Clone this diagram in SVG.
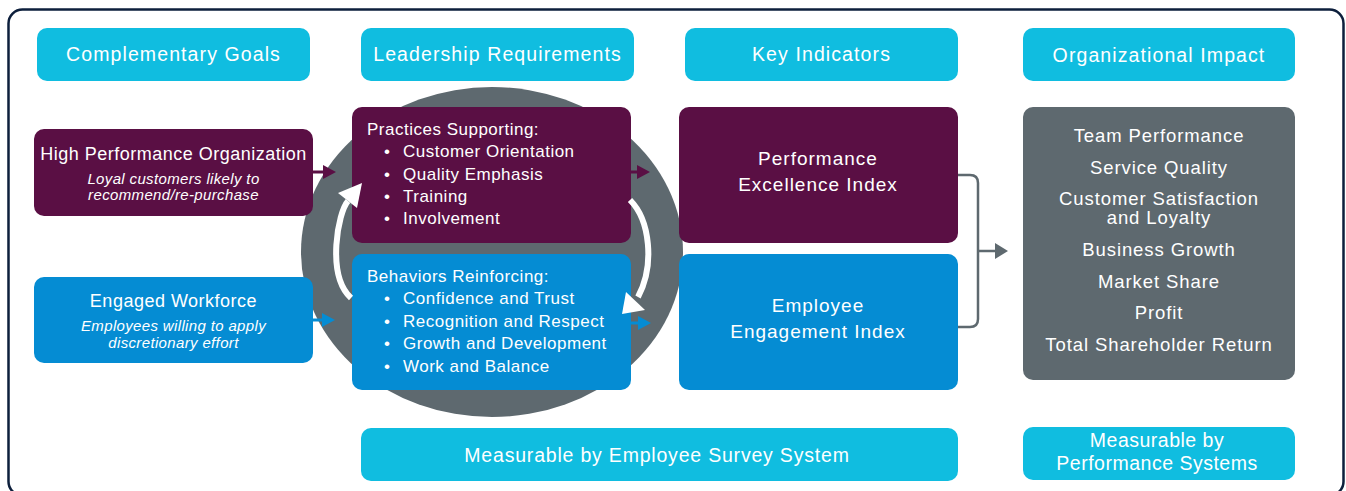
<svg xmlns="http://www.w3.org/2000/svg" width="1346" height="491" viewBox="0 0 1346 491">
<style>
.hdr{fill:#10bde0}
.pur{fill:#5a0f44}
.blu{fill:#058cd3}
.gry{fill:#5e696f}
text{font-family:"Liberation Sans",Arial,sans-serif;fill:#ffffff}
.h{font-size:19.5px;letter-spacing:1.1px;text-anchor:middle}
.p{font-size:19.5px;letter-spacing:0.5px;text-anchor:middle}
.t{font-size:18px;letter-spacing:0.5px;text-anchor:middle}
.i{font-size:15px;letter-spacing:0.35px;font-style:italic;text-anchor:middle}
.l{font-size:17px;letter-spacing:0.5px}
.k{font-size:19px;letter-spacing:1px;text-anchor:middle}
.r{font-size:18.5px;letter-spacing:0.9px;text-anchor:middle}
.s{font-size:19.5px;letter-spacing:0.8px;text-anchor:middle}
.conn{stroke:#5e696f;stroke-width:2.5;fill:none}
</style>
<rect x="8.5" y="9.5" width="1335" height="486" rx="14" fill="#ffffff" stroke="#0d1f3c" stroke-width="2.5"/>

<g id="hdr-goals"><rect class="hdr" x="37" y="28" width="273" height="53" rx="10"/><text class="h" x="173.5" y="61">Complementary Goals</text></g>
<g id="hdr-leadership"><rect class="hdr" x="361" y="28" width="273" height="53" rx="10"/><text class="h" x="497.5" y="61">Leadership Requirements</text></g>
<g id="hdr-indicators"><rect class="hdr" x="685" y="28" width="273" height="53" rx="10"/><text class="h" x="821.5" y="61">Key Indicators</text></g>
<g id="hdr-impact"><rect class="hdr" x="1023" y="28" width="272" height="53" rx="10"/><text class="h" x="1159" y="62">Organizational Impact</text></g>

<g id="ring"><ellipse cx="492" cy="252" rx="191" ry="165" fill="#5e696f"/></g>

<g id="goal-hpo"><rect class="pur" x="34" y="129" width="279" height="87" rx="10"/>
<text class="t" x="173.5" y="160">High Performance Organization</text>
<text class="i" x="173.5" y="184">Loyal customers likely to</text>
<text class="i" x="173.5" y="200">recommend/re-purchase</text></g>

<g id="goal-ew"><rect class="blu" x="34" y="277" width="279" height="86" rx="10"/>
<text class="t" x="173.5" y="307">Engaged Workforce</text>
<text class="i" x="173.5" y="331">Employees willing to apply</text>
<text class="i" x="173.5" y="348">discretionary effort</text></g>

<g id="practices"><rect class="pur" x="352" y="107" width="279" height="136" rx="10"/>
<text class="l" x="367" y="135">Practices Supporting:</text>
<g class="l"><text x="384" y="157">•</text><text x="403" y="157">Customer Orientation</text>
<text x="384" y="180">•</text><text x="403" y="180">Quality Emphasis</text>
<text x="384" y="202">•</text><text x="403" y="202">Training</text>
<text x="384" y="224">•</text><text x="403" y="224">Involvement</text></g></g>

<g id="behaviors"><rect class="blu" x="352" y="254" width="279" height="136" rx="10"/>
<text class="l" x="367" y="282">Behaviors Reinforcing:</text>
<g class="l"><text x="384" y="304">•</text><text x="403" y="304">Confidence and Trust</text>
<text x="384" y="327">•</text><text x="403" y="327">Recognition and Respect</text>
<text x="384" y="349">•</text><text x="403" y="349">Growth and Development</text>
<text x="384" y="372">•</text><text x="403" y="372">Work and Balance</text></g></g>

<g id="pei"><rect class="pur" x="679" y="107" width="279" height="136" rx="10"/>
<text class="k" x="818" y="165">Performance</text>
<text class="k" x="818" y="191">Excellence Index</text></g>

<g id="eei"><rect class="blu" x="679" y="254" width="279" height="136" rx="10"/>
<text class="k" x="818" y="312">Employee</text>
<text class="k" x="818" y="338">Engagement Index</text></g>

<g id="impact"><rect class="gry" x="1023" y="107" width="272" height="273" rx="10"/>
<text class="r" x="1159" y="142">Team Performance</text>
<text class="r" x="1159" y="174">Service Quality</text>
<text class="r" x="1159" y="205">Customer Satisfaction</text>
<text class="r" x="1159" y="224">and Loyalty</text>
<text class="r" x="1159" y="256">Business Growth</text>
<text class="r" x="1159" y="288">Market Share</text>
<text class="r" x="1159" y="319">Profit</text>
<text class="r" x="1159" y="351">Total Shareholder Return</text></g>

<g id="survey"><rect class="hdr" x="361" y="428" width="597" height="53" rx="10"/>
<text class="s" x="657" y="462">Measurable by Employee Survey System</text></g>

<g id="perfsys"><rect class="hdr" x="1023" y="427" width="272" height="53" rx="10"/>
<text class="p" x="1157" y="447">Measurable by</text>
<text class="p" x="1157" y="470">Performance Systems</text></g>

<g id="connectors">
<line x1="313" y1="172" x2="325" y2="172" stroke="#5a0f44" stroke-width="3"/>
<polygon points="336,172 323,165 323,179" fill="#5a0f44"/>
<line x1="631" y1="172" x2="639" y2="172" stroke="#5a0f44" stroke-width="3"/>
<polygon points="650,172 637,165 637,179" fill="#5a0f44"/>
<line x1="313" y1="320" x2="324" y2="320" stroke="#058cd3" stroke-width="3"/>
<polygon points="335,320 322,313 322,327" fill="#058cd3"/>
<line x1="631" y1="323" x2="640" y2="323" stroke="#058cd3" stroke-width="3"/>
<polygon points="651,323 638,316 638,330" fill="#058cd3"/>
<path d="M351,298 C326,275 338,212 348,201" stroke="#ffffff" stroke-width="6" fill="none"/>
<polygon points="362,183 338,193 357,208" fill="#ffffff"/>
<path d="M630,200 C650,220 655,265 638,297" stroke="#ffffff" stroke-width="6" fill="none"/>
<polygon points="622,314 626,292 645,310" fill="#ffffff"/>
<path class="conn" d="M958,175 H970 Q978,175 978,183 V319 Q978,327 970,327 H958"/>
<line class="conn" x1="978" y1="251" x2="996" y2="251"/>
<polygon points="1008,251 995,243 995,259" fill="#5e696f"/>
</g>
</svg>
